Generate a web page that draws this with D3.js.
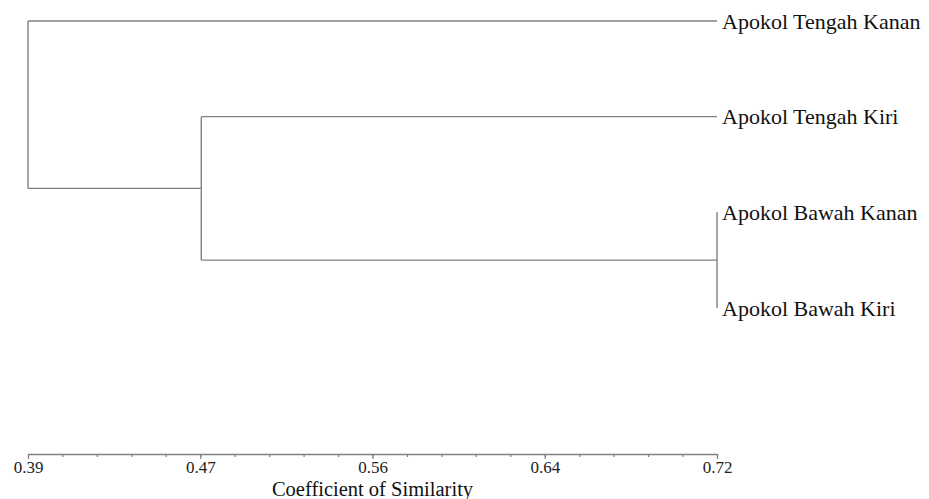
<!DOCTYPE html>
<html>
<head>
<meta charset="utf-8">
<script src="https://cdn.jsdelivr.net/npm/d3@7"></script>
<style>
  html, body { margin: 0; padding: 0; background: #fff; }
  svg { display: block; }
</style>
</head>
<body>
<svg id="chart" width="929" height="499"></svg>
<script>
// ---- Data ----
const leafNames = ["Apokol Tengah Kanan", "Apokol Tengah Kiri", "Apokol Bawah Kanan", "Apokol Bawah Kiri"];
// linkage: each merge joins two clusters (leaf indices 0..3, new clusters 4,5,...)
const mergePairs = [[2, 3], [1, 4], [0, 5]];
const mergeSims = [0.72, 0.473, 0.39];
const tickValues = [0.39, 0.4725, 0.555, 0.6375, 0.72];
const tickLabels = ["0.39", "0.47", "0.56", "0.64", "0.72"];
const axisTitle = "Coefficient of Similarity";

// ---- Build hierarchy ----
const nodes = leafNames.map(n => ({ name: n, sim: 0.72 }));
mergePairs.forEach((p, i) => {
  nodes.push({ sim: mergeSims[i], children: [nodes[p[0]], nodes[p[1]]] });
});
const root = d3.hierarchy(nodes[nodes.length - 1]);

// ---- Scales ----
const x = d3.scaleLinear().domain([0.39, 0.72]).range([28, 717]);
const y = d3.scalePoint().domain(leafNames).range([21, 308]);

root.eachAfter(d => {
  d.px = x(d.data.sim);
  d.py = d.children ? d3.mean(d.children, c => c.py) : y(d.data.name);
});

const svg = d3.select("#chart");
const g = svg.append("g");

const stroke = "#808080";
const font = "Liberation Serif, Times New Roman, serif";

// links (elbow)
root.descendants().filter(d => d.children).forEach(d => {
  const ys = d.children.map(c => c.py);
  g.append("line")
    .attr("x1", d.px).attr("x2", d.px)
    .attr("y1", d3.min(ys)).attr("y2", d3.max(ys))
    .attr("stroke", stroke).attr("stroke-width", 1.4);
  d.children.forEach(c => {
    g.append("line")
      .attr("x1", d.px).attr("x2", c.px)
      .attr("y1", c.py).attr("y2", c.py)
      .attr("stroke", stroke).attr("stroke-width", 1.4);
  });
});

// leaf labels
g.selectAll("text.leaf")
  .data(root.leaves())
  .join("text")
  .attr("class", "leaf")
  .attr("x", d => d.px + 5)
  .attr("y", d => d.py + 7.5)
  .style("font-family", font)
  .style("font-size", "22px")
  .attr("fill", "#111")
  .text(d => d.data.name);

// ---- Axis ----
const axisY = 454;
const minorTicks = d3.range(21).map(i => 0.39 + i * (0.72 - 0.39) / 20);

const minorG = svg.append("g").attr("transform", `translate(0,${axisY})`);
minorG.call(d3.axisBottom(x).tickValues(minorTicks).tickSize(3).tickSizeOuter(0).tickFormat(""));
minorG.select("path.domain").remove();
minorG.selectAll(".tick line").attr("stroke", stroke).attr("stroke-width", 1.2);

const axisG = svg.append("g").attr("transform", `translate(0,${axisY})`);
axisG.call(d3.axisBottom(x).tickValues(tickValues).tickSize(5).tickSizeOuter(0)
  .tickFormat((d, i) => tickLabels[i]));
axisG.selectAll("path.domain").attr("stroke", stroke).attr("stroke-width", 1.4);
axisG.selectAll(".tick line").attr("stroke", stroke).attr("stroke-width", 1.2);
axisG.selectAll(".tick text")
  .style("font-family", font)
  .style("font-size", "17px")
  .attr("fill", "#222")
  .attr("dy", null)
  .attr("y", 19);

svg.append("text")
  .attr("x", (x.range()[0] + x.range()[1]) / 2)
  .attr("y", 496)
  .attr("text-anchor", "middle")
  .style("font-family", font)
  .style("font-size", "20.5px")
  .attr("fill", "#111")
  .text(axisTitle);
</script>
</body>
</html>
